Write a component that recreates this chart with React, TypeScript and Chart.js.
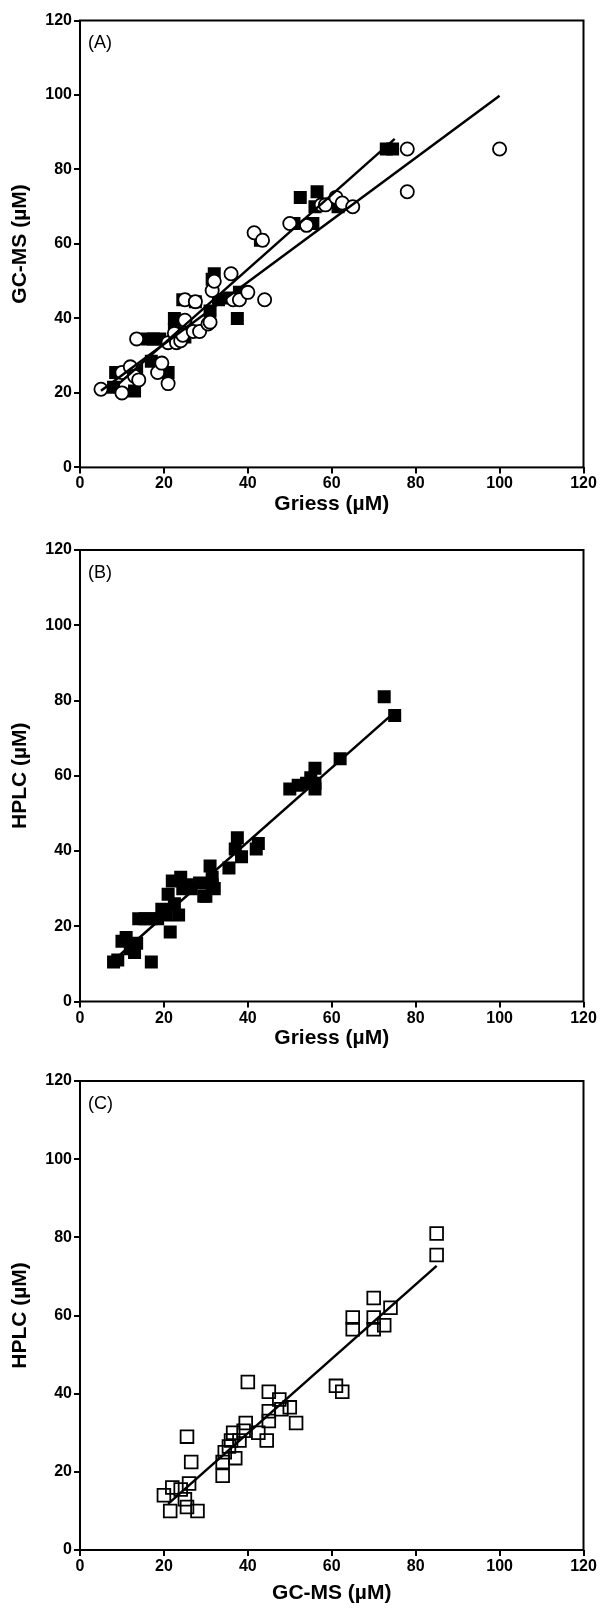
import React, { useEffect, useRef } from 'react';
import { Chart, registerables } from 'chart.js';

Chart.register(...registerables);

const FONT = '"Liberation Sans", Arial, Helvetica, sans-serif';

// Axis ticks (shared)
const axisMin = 0;
const axisMax = 120;
const axisStep = 20;

// Panel labels and axis titles
const panelLabels = ['(A)', '(B)', '(C)'];
const xTitles = ['Griess (µM)', 'Griess (µM)', 'GC-MS (µM)'];
const yTitles = ['GC-MS (µM)', 'HPLC (µM)', 'HPLC (µM)'];

// Panel A: filled squares (Griess vs GC-MS)
const aSquareX = [8, 8.5, 13, 13.5, 16, 17.5, 19, 17, 21, 22.5, 22.5, 24.5, 25, 27.5, 31, 31.5, 32, 33, 35.5, 37.5, 38, 43, 51, 52.5, 55.5, 56, 56.5, 61.5, 73, 74.5];
const aSquareY = [21.5, 25.5, 20.5, 26, 34.5, 34.5, 34.5, 28.5, 25.5, 40, 37, 45, 35, 44.5, 42, 50.5, 52, 45, 45.5, 40, 47, 61, 65.5, 72.5, 65.5, 70, 74, 70, 85.5, 85.5];
// Panel A: open circles
const aCircleX = [5, 10, 10, 12, 13, 14, 13.5, 18.5, 19.5, 21, 21, 22.5, 23, 24, 24.5, 25, 25, 27.5, 27, 28.5, 30.5, 31, 31.5, 32, 36, 36.5, 38, 40, 41.5, 43.5, 44, 50, 54, 57.5, 58.5, 61, 62.5, 65, 78, 78, 100];
const aCircleY = [21, 20, 25.5, 27, 24.5, 23.5, 34.5, 25.5, 28, 22.5, 33.5, 36, 33.5, 34, 35.5, 39.5, 45, 44.5, 36.5, 36.5, 38.5, 39, 47.5, 50, 52, 45, 45, 47, 63, 61, 45, 65.5, 65, 70.5, 70.5, 72.5, 71, 70, 85.5, 74, 85.5];
// Panel A regression lines
const aSquareLineX = [7, 75];
const aSquareLineY = [20.2, 88.2];
const aCircleLineX = [5, 100];
const aCircleLineY = [20.6, 99.8];

// Panel B: filled squares (Griess vs HPLC)
const bSquareX = [8, 9, 10, 11, 12, 13, 13.5, 14, 15.5, 17, 17, 18.5, 19.5, 20.5, 21, 21.5, 22, 22.5, 23.5, 24, 24.5, 25.5, 26.5, 28.5, 29.5, 30, 31, 31.5, 32, 31.5, 35.5, 37, 37.5, 38.5, 42, 42.5, 50, 52, 54, 55, 56, 56, 56, 62, 72.5, 75];
const bSquareY = [10.5, 11, 16, 17, 14, 13, 15.5, 22, 22, 22, 10.5, 22, 24.5, 23, 28.5, 18.5, 32, 26, 23, 33, 30, 31, 30, 31.5, 28, 28, 36, 33, 30, 31, 35.5, 40.5, 43.5, 38.5, 40.5, 42, 56.5, 57.5, 58, 59.5, 62, 56.5, 58, 64.5, 81, 76];
const bLineX = [8, 75];
const bLineY = [10.9, 76.9];

// Panel C: open squares (GC-MS vs HPLC)
const cSquareX = [20, 21.5, 22, 24, 25, 25.5, 25.5, 26, 26.5, 28, 34, 34, 34.5, 35.5, 36, 36.5, 37, 38, 39, 39.5, 40, 42.5, 44.5, 45, 45, 45, 47.5, 48, 50, 51.5, 61, 62.5, 65, 65, 70, 70, 70, 72.5, 74, 85, 85];
const cSquareY = [14, 10, 16, 15.5, 13, 11, 29, 17, 22.5, 10, 19, 22.5, 25, 26.5, 28, 30, 23.5, 28, 30.5, 32.5, 43, 30, 28, 33, 35.5, 40.5, 38.5, 36, 36.5, 32.5, 42, 40.5, 56.5, 59.5, 56.5, 59.5, 64.5, 57.5, 62, 75.5, 81];
const cLineX = [21, 85];
const cLineY = [11.8, 72.7];

const pts = (xs: number[], ys: number[]) => xs.map((x, i) => ({ x, y: ys[i] }));

const filledSquares = (xs: number[], ys: number[], order: number) => ({
  data: pts(xs, ys),
  pointStyle: 'rect',
  pointRadius: 9.2,
  backgroundColor: '#000',
  borderColor: '#000',
  borderWidth: 0,
  showLine: false,
  order,
});
const openCircles = (xs: number[], ys: number[], order: number) => ({
  data: pts(xs, ys),
  pointStyle: 'circle',
  pointRadius: 6.6,
  backgroundColor: '#fff',
  borderColor: '#000',
  borderWidth: 1.8,
  showLine: false,
  order,
});
const openSquares = (xs: number[], ys: number[], order: number) => ({
  data: pts(xs, ys),
  pointStyle: 'rect',
  pointRadius: 9,
  backgroundColor: 'rgba(0,0,0,0)',
  borderColor: '#000',
  borderWidth: 1.8,
  showLine: false,
  order,
});
const fitLine = (xs: number[], ys: number[], order: number) => ({
  data: pts(xs, ys),
  showLine: true,
  pointRadius: 0,
  borderColor: '#000',
  borderWidth: 2.5,
  backgroundColor: '#000',
  fill: false,
  order,
});

const panelDatasets = [
  [fitLine(aSquareLineX, aSquareLineY, 0), fitLine(aCircleLineX, aCircleLineY, 0), openCircles(aCircleX, aCircleY, 1), filledSquares(aSquareX, aSquareY, 2)],
  [fitLine(bLineX, bLineY, 0), filledSquares(bSquareX, bSquareY, 1)],
  [fitLine(cLineX, cLineY, 0), openSquares(cSquareX, cSquareY, 1)],
];

const layouts = [
  { top: 0, h: 530, padTop: 20.5, areaBottom: 467.4, xh: 49 },
  { top: 530, h: 530, padTop: 20, areaBottom: 471.5, xh: 49 },
  { top: 1060, h: 552, padTop: 21, areaBottom: 490, xh: 56 },
];

const framePlugin = {
  id: 'frame',
  afterDatasetsDraw(chart: any, _args: any, opts: any) {
    const { ctx, chartArea } = chart;
    const { left, top, right, bottom } = chartArea;
    ctx.save();
    ctx.strokeStyle = '#000';
    ctx.lineWidth = 2;
    ctx.strokeRect(left, top, right - left, bottom - top);
    ctx.fillStyle = '#000';
    ctx.font = `18px ${FONT}`;
    ctx.textBaseline = 'middle';
    ctx.textAlign = 'left';
    ctx.fillText(opts.label || '', left + 8, top + 23);
    ctx.restore();
  },
};

function Panel({ idx }: { idx: number }) {
  const ref = useRef<HTMLCanvasElement>(null);
  const L = layouts[idx];
  useEffect(() => {
    const tickFont = { family: FONT, size: 16, weight: 'bold' as const };
    const titleFont = { family: FONT, size: 21, weight: 'bold' as const };
    const grid = {
      drawOnChartArea: false,
      drawTicks: true,
      tickLength: 6,
      color: '#000',
      tickColor: '#000',
      lineWidth: 2,
      tickWidth: 2,
    };
    const chart = new Chart(ref.current as HTMLCanvasElement, {
      type: 'scatter',
      data: { datasets: panelDatasets[idx] as any },
      plugins: [framePlugin],
      options: {
        animation: false,
        responsive: false,
        events: [],
        layout: {
          padding: {
            top: L.padTop,
            right: 20.5,
            left: 0,
            bottom: Math.max(0, L.h - L.areaBottom - L.xh),
          },
        },
        plugins: {
          legend: { display: false },
          tooltip: { enabled: false },
          frame: { label: panelLabels[idx] },
        } as any,
        scales: {
          x: {
            type: 'linear',
            min: axisMin,
            max: axisMax,
            ticks: { stepSize: axisStep, color: '#000', font: tickFont, padding: 1, maxRotation: 0 },
            grid,
            border: { display: false },
            title: { display: true, text: xTitles[idx], color: '#000', font: titleFont, padding: 0 },
            afterFit: (s: any) => { s.height = L.xh; },
          },
          y: {
            type: 'linear',
            min: axisMin,
            max: axisMax,
            ticks: { stepSize: axisStep, color: '#000', font: tickFont, padding: 2 },
            grid,
            border: { display: false },
            title: { display: true, text: yTitles[idx], color: '#000', font: titleFont, padding: { top: 8, bottom: 0 } },
            afterFit: (s: any) => { s.width = 80; },
          },
        },
      } as any,
    });
    return () => chart.destroy();
  }, []);
  return (
    <canvas
      ref={ref}
      width={604}
      height={L.h}
      style={{ position: 'absolute', left: 0, top: L.top, width: 604, height: L.h, display: 'block' }}
    />
  );
}

export default function App() {
  return (
    <div style={{ position: 'absolute', left: 0, top: 0, width: 604, height: 1612, background: '#fff' }}>
      <Panel idx={0} />
      <Panel idx={1} />
      <Panel idx={2} />
    </div>
  );
}
